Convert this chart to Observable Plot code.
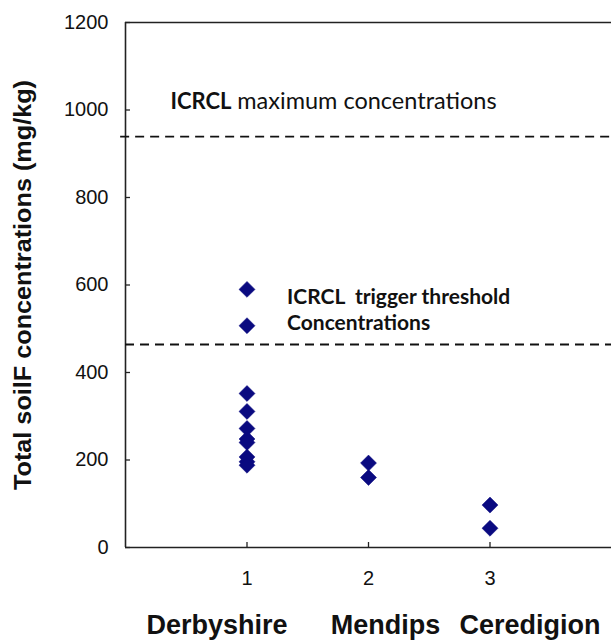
<!DOCTYPE html>
<html>
<head>
<meta charset="utf-8">
<script src="https://cdn.jsdelivr.net/npm/d3@7"></script>
<script src="https://cdn.jsdelivr.net/npm/@observablehq/plot@0.6"></script>
<style>
  html, body { margin: 0; padding: 0; background: #fff; }
  #chart svg { display: block; }
</style>
</head>
<body>
<div id="chart"></div>
<script>
// ---- data ----
const sites = ["Derbyshire", "Mendips", "Ceredigion"];
const siteIndex = [1, 2, 3];
const derbyshire = [590, 507, 352, 311, 272, 248, 240, 207, 196, 188];
const mendips = [193, 160];
const ceredigion = [97, 44];
const yTicks = [0, 200, 400, 600, 800, 1000, 1200];
const xTicks = [1, 2, 3];
const maxConcentration = 939;
const triggerThreshold = 464;
const maxLabel = ["ICRCL", "maximum concentrations"];
const triggerLabel = ["ICRCL\u00a0\u00a0trigger threshold", "Concentrations"];
const yLabel = "Total soilF concentrations (mg/kg)";

const points = [
  ...derbyshire.map(v => ({site: 1, value: v})),
  ...mendips.map(v => ({site: 2, value: v})),
  ...ceredigion.map(v => ({site: 3, value: v}))
];

const siteOffsets = [-30, 17, 40];
const annFont = "Lato, 'Open Sans', sans-serif";

const chart = Plot.plot({
  width: 611,
  height: 641,
  marginLeft: 125,
  marginRight: 0,
  marginTop: 22,
  marginBottom: 94,
  style: {fontFamily: "'Liberation Sans', Arial, sans-serif", background: "#fff"},
  x: {domain: [0, 4]},
  y: {domain: [0, 1200]},
  marks: [
    // frame lines
    Plot.ruleX([0], {stroke: "#222", strokeWidth: 1.6}),
    Plot.ruleY([0, 1200], {stroke: "#222", strokeWidth: 1.6}),
    // inward ticks
    Plot.axisY({ticks: yTicks, text: null, tickSize: 5, dx: 5, stroke: "#222", strokeWidth: 1.3, label: null}),
    Plot.axisX({ticks: xTicks, text: null, tickSize: 5, dy: -5, stroke: "#222", strokeWidth: 1.3, label: null}),
    // tick labels
    Plot.axisY({ticks: yTicks, tickFormat: d => String(d), tickSize: 0, tickPadding: 17, fontSize: 20, fill: "#111", label: null}),
    Plot.axisX({ticks: xTicks, tickFormat: d => String(d), tickSize: 0, tickPadding: 23, fontSize: 20, fill: "#111", label: null}),
    // threshold lines
    Plot.ruleY([maxConcentration], {x1: -0.04, x2: 4, stroke: "#111", strokeWidth: 1.8, strokeDasharray: "9,6"}),
    Plot.ruleY([triggerThreshold], {stroke: "#111", strokeWidth: 1.8, strokeDasharray: "9,6"}),
    // points
    Plot.dot(points, {x: "site", y: "value", symbol: "diamond2", r: 7.2, fill: "#0a0a80", stroke: "#0a0a80", strokeWidth: 0.5}),
    // annotations
    Plot.text([maxLabel[0]], {x: [0.37], y: [1019], text: d => d, textAnchor: "start", fontFamily: annFont, fontWeight: "bold", fontSize: 22, fill: "#111"}),
    Plot.text([maxLabel[1]], {x: [0.92], y: [1019], text: d => d, textAnchor: "start", fontFamily: annFont, fontSize: 23.5, fill: "#111"}),
    Plot.text(triggerLabel, {x: [1.33, 1.33], y: [571, 512], text: d => d, textAnchor: "start", fontFamily: annFont, fontWeight: "bold", fontSize: 21, fill: "#111"}),
    // site labels
    ...sites.map((s, i) => Plot.text([s], {x: [siteIndex[i]], text: d => d, frameAnchor: "bottom", lineAnchor: "middle", dy: 78, dx: siteOffsets[i], fontWeight: "bold", fontSize: 27, fill: "#111"})),
    // y axis label
    Plot.text([yLabel], {frameAnchor: "left", textAnchor: "middle", lineAnchor: "middle", text: d => d, rotate: -90, dx: -102, fontWeight: "bold", fontSize: 23, fill: "#111", className: "ylabel"})
  ]
});
const yl = chart.querySelector(".ylabel text");
if (yl) { yl.setAttribute("textLength", "410"); yl.setAttribute("lengthAdjust", "spacingAndGlyphs"); }
document.getElementById("chart").append(chart);
</script>
</body>
</html>
